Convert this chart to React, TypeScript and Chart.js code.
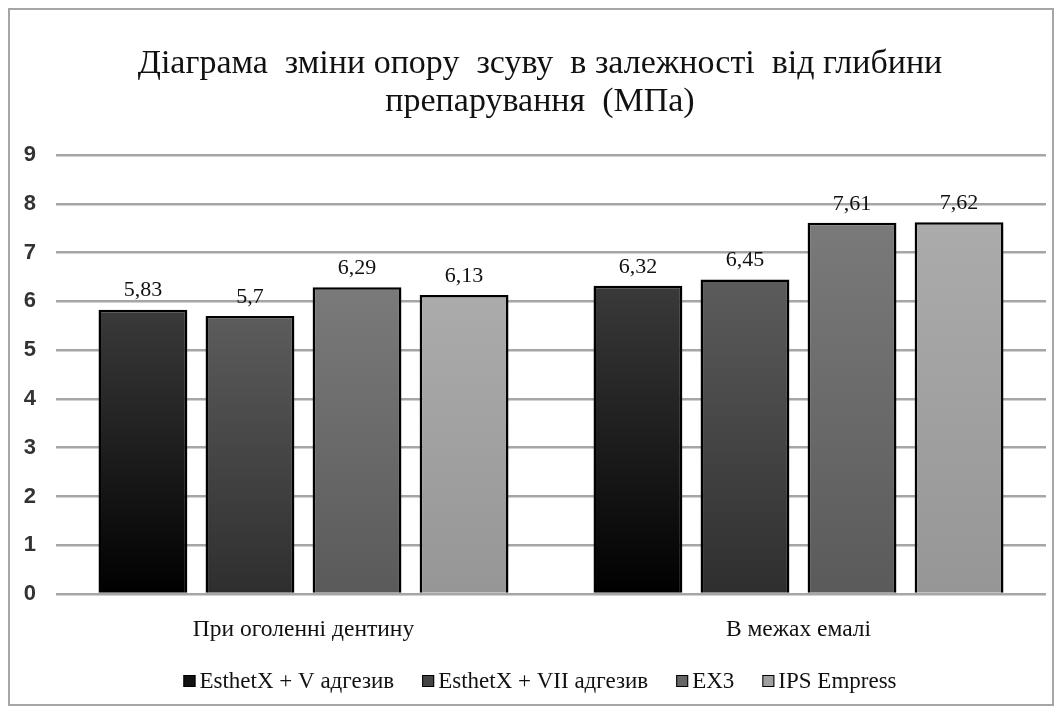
import React, { useEffect, useRef } from "react";
import { Chart, registerables } from "chart.js";

Chart.register(...registerables);

const categories = ["При оголенні дентину", "В межах емалі"];
const seriesNames = ["EsthetX + V адгезив", "EsthetX + VII адгезив", "EX3", "IPS Empress"];
const seriesValues = [
  [5.83, 6.32],
  [5.7, 6.45],
  [6.29, 7.61],
  [6.13, 7.62],
];
const titleLines = ["Діаграма  зміни опору  зсуву  в залежності  від глибини", "препарування  (МПа)"];
const yTicks = [0, 1, 2, 3, 4, 5, 6, 7, 8, 9];

const gradTop = ["#3a3a3a", "#5c5c5c", "#7a7a7a", "#ababab"];
const gradBottom = ["#000000", "#2e2e2e", "#5a5a5a", "#969696"];
const legendFill = ["#111111", "#444444", "#666666", "#a0a0a0"];

const valueLabels = {
  id: "valueLabels",
  afterDatasetsDraw(chart: any) {
    const ctx = chart.ctx;
    ctx.save();
    ctx.font = "22px 'Liberation Serif'";
    ctx.fillStyle = "#111";
    ctx.textAlign = "center";
    ctx.textBaseline = "bottom";
    chart.data.datasets.forEach((ds: any, i: number) => {
      const meta = chart.getDatasetMeta(i);
      meta.data.forEach((el: any, j: number) => {
        const v = ds.data[j];
        ctx.fillText(String(v).replace(".", ","), el.x, el.y - 8);
      });
    });
    ctx.restore();
  },
};

const customTitle = {
  id: "customTitle",
  afterDraw(chart: any) {
    const ctx = chart.ctx;
    ctx.save();
    ctx.font = "34px 'Liberation Serif'";
    ctx.fillStyle = "#111";
    ctx.textAlign = "center";
    ctx.textBaseline = "middle";
    const cx = chart.width / 2 + 9;
    titleLines.forEach((t, i) => {
      ctx.fillText(t, cx, 54 + i * 38);
    });
    ctx.restore();
  },
};

const customLegend = {
  id: "customLegend",
  afterDraw(chart: any) {
    const ctx = chart.ctx;
    ctx.save();
    ctx.font = "23px 'Liberation Serif'";
    ctx.textBaseline = "middle";
    ctx.textAlign = "left";
    const box = 12;
    const gap = 4;
    const itemGap = 28;
    const items = chart.data.datasets.map((ds: any) => ds.label as string);
    const widths = items.map((t: string) => box + gap + ctx.measureText(t).width);
    const total = widths.reduce((a: number, b: number) => a + b, 0) + itemGap * (items.length - 1);
    let x = chart.width / 2 + 9 - total / 2;
    const y = chart.height - 23;
    items.forEach((t: string, i: number) => {
      ctx.fillStyle = legendFill[i];
      ctx.fillRect(x, y - box / 2, box, box);
      ctx.strokeStyle = "#000";
      ctx.lineWidth = 1;
      ctx.strokeRect(x + 0.5, y - box / 2 + 0.5, box - 1, box - 1);
      ctx.fillStyle = "#111";
      ctx.fillText(t, x + box + gap, y + 1);
      x += widths[i] + itemGap;
    });
    ctx.restore();
  },
};

export default function App() {
  const ref = useRef<HTMLCanvasElement>(null);
  useEffect(() => {
    if (!ref.current) return;
    const chart = new Chart(ref.current, {
      type: "bar",
      data: {
        labels: categories,
        datasets: seriesNames.map((name, i) => ({
          label: name,
          data: seriesValues[i],
          borderColor: "#000",
          borderWidth: 2.5,
          categoryPercentage: 0.865,
          barPercentage: 0.83,
          backgroundColor: (c: any) => {
            const chart = c.chart;
            const area = chart.chartArea;
            if (!area || c.dataIndex === undefined || c.type !== "data") return legendFill[i];
            const y = chart.scales.y;
            const top = y.getPixelForValue(c.raw);
            const bottom = y.getPixelForValue(0);
            const g = chart.ctx.createLinearGradient(0, top, 0, bottom);
            g.addColorStop(0, gradTop[i]);
            g.addColorStop(1, gradBottom[i]);
            return g;
          },
        })),
      },
      options: {
        animation: false,
        responsive: true,
        maintainAspectRatio: false,
        layout: { padding: { left: 0, right: 6, top: 145, bottom: 58 } },
        plugins: {
          title: { display: false },
          legend: { display: false },
          tooltip: { enabled: false },
        },
        scales: {
          x: {
            grid: { display: false },
            border: { display: false },
            ticks: { color: "#111", font: { family: "'Liberation Serif'", size: 23.5 }, padding: 14 },
            afterFit: (axis: any) => {
              axis.height = 52;
            },
          },
          y: {
            min: 0,
            max: 9,
            afterBuildTicks: (axis: any) => {
              axis.ticks = yTicks.map((v) => ({ value: v }));
            },
            afterFit: (axis: any) => {
              axis.width = 46;
            },
            grid: { color: "#a6a6a6", lineWidth: 2.5, drawTicks: false },
            border: { display: false },
            ticks: {
              color: "#333",
              padding: 20,
              font: { family: "'Liberation Sans'", size: 22, weight: "bold" },
            },
          },
        },
      },
      plugins: [valueLabels, customTitle, customLegend],
    });
    return () => chart.destroy();
  }, []);
  return (
    <div
      style={{
        width: 1046,
        height: 698,
        boxSizing: "border-box",
        border: "2px solid #a6a6a6",
        background: "#fff",
        position: "relative",
      }}
    >
      <canvas ref={ref} />
    </div>
  );
}
